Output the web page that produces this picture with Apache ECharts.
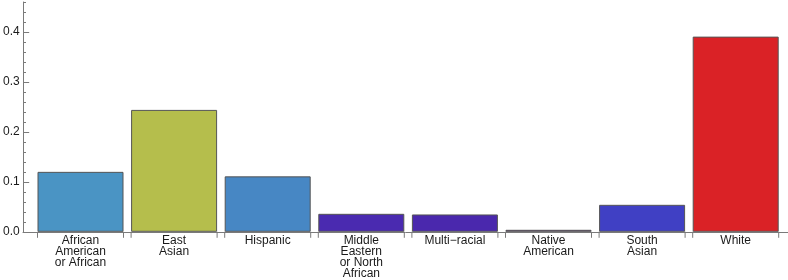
<!DOCTYPE html>
<html><head><meta charset="utf-8">
<script src="https://cdn.jsdelivr.net/npm/echarts@6/dist/echarts.min.js"></script>
<style>html,body{margin:0;padding:0;background:#fff}#c{width:788px;height:280px}</style>
</head><body><div id="c"></div>
<script>
const categories = ["African\nAmerican\nor African", "East\nAsian", "Hispanic", "Middle\nEastern\nor North\nAfrican", "Multi\u2212racial", "Native\nAmerican", "South\nAsian", "White"];
const values = [0.120, 0.244, 0.111, 0.036, 0.0347, 0.004, 0.054, 0.3907];
const barColors = ["#4a94c4", "#b5be4c", "#4787c4", "#4a2ab0", "#4a28ad", "#5b2280", "#4040c4", "#da2226"];
const majorTicks = [0, 0.1, 0.2, 0.3, 0.4];

const chart = echarts.init(document.getElementById('c'), null, {renderer: 'canvas'});
const font = '"Liberation Sans", Arial, sans-serif';
const axisCol = '#7a7a7a';
chart.setOption({
  animation: false,
  grid: [
    {left: 23, right: 0, top: 32, bottom: 48},
    {left: 23, right: 0, top: 2, bottom: 48},
    {left: 33.7, right: 5.5, top: 2, bottom: 48}
  ],
  xAxis: [
    {gridIndex: 0, type: 'value', show: false},
    {gridIndex: 1, type: 'value', min: 0, max: 1, axisLine: {show: true, onZero: false, lineStyle: {color: axisCol, width: 1}}, axisTick: {show: false}, axisLabel: {show: false}, splitLine: {show: false}},
    {gridIndex: 2, type: 'category', data: categories, axisLine: {show: false}, axisTick: {show: false},
     axisLabel: {interval: 0, margin: 3, fontFamily: font, fontSize: 12, lineHeight: 11.2, color: '#1a1a1a'}}
  ],
  yAxis: [
    {gridIndex: 0, type: 'value', min: 0, max: 0.4, interval: 0.1, axisLine: {show: false},
     axisTick: {show: true, inside: true, length: 5.5, lineStyle: {color: axisCol}},
     axisLabel: {margin: 4, fontFamily: font, fontSize: 12, color: '#1a1a1a', formatter: v => v.toFixed(1)},
     splitLine: {show: false}},
    {gridIndex: 1, type: 'value', min: 0, max: 0.46, interval: 0.02, axisLine: {show: true, lineStyle: {color: axisCol}},
     axisTick: {show: true, inside: true, length: 3, lineStyle: {color: axisCol}}, axisLabel: {show: false}, splitLine: {show: false}},
    {gridIndex: 2, type: 'value', min: 0, max: 0.46, show: false}
  ],
  series: [
    {type: 'bar', xAxisIndex: 2, yAxisIndex: 2, barWidth: 86,
     data: values.map((v, i) => ({value: v, itemStyle: {color: barColors[i]}})),
     itemStyle: {borderColor: '#555', borderWidth: 1}},
    {type: 'custom', xAxisIndex: 2, yAxisIndex: 2, silent: true, clip: false,
     data: categories.map((c, i) => [i, 0]),
     renderItem: function (params, api) {
       const p = api.coord([api.value(0), 0]);
       const hw = 43;
       return {type: 'group', children: [
         {type: 'line', shape: {x1: p[0] - hw, y1: p[1], x2: p[0] - hw, y2: p[1] + 6}, style: {stroke: axisCol, lineWidth: 1}},
         {type: 'line', shape: {x1: p[0] + hw, y1: p[1], x2: p[0] + hw, y2: p[1] + 6}, style: {stroke: axisCol, lineWidth: 1}}
       ]};
     }}
  ]
});
</script></body></html>
